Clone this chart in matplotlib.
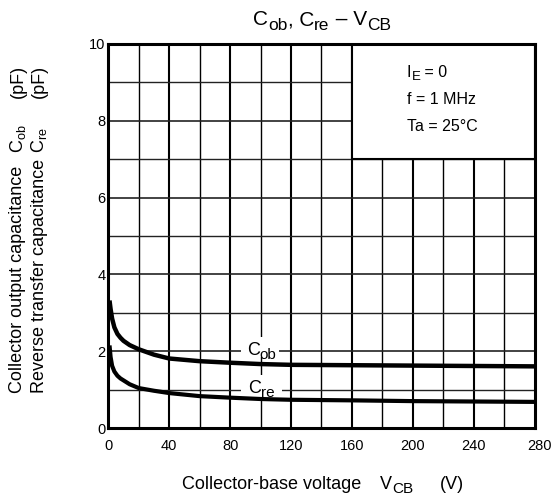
'''
Capacitance vs. collector-base voltage chart (datasheet style).
'''

import matplotlib.pyplot as plt
from matplotlib.patches import Rectangle

plt.rcParams['font.family'] = ['Liberation Sans', 'DejaVu Sans']
plt.rcParams['mathtext.fontset'] = 'custom'
plt.rcParams['mathtext.rm'] = 'Liberation Sans'
plt.rcParams['mathtext.it'] = 'Liberation Sans'

# voltage points in V
V_CB = [0.8, 1.5, 2.5, 4, 6, 8, 10, 14, 20, 30, 40, 60, 80, 100, 120, 160, 200, 240, 280]

# capacitances in pF
C_OB = [3.32, 3.1, 2.85, 2.62, 2.45, 2.35, 2.27, 2.16, 2.05, 1.91, 1.81, 1.74, 1.70,
        1.665, 1.645, 1.635, 1.625, 1.615, 1.605]
C_RE = [2.15, 1.85, 1.62, 1.47, 1.36, 1.29, 1.24, 1.14, 1.04, 0.97, 0.91, 0.83, 0.79,
        0.755, 0.735, 0.72, 0.70, 0.69, 0.68]

X_TICKS = [0, 40, 80, 120, 160, 200, 240, 280]
Y_TICKS = [0, 2, 4, 6, 8, 10]

FIG_W, FIG_H = 551, 501


def px(x, y):
    # pixel position (from top left) to figure fraction
    return x / FIG_W, 1 - y / FIG_H


def draw_runs(fig, x, y, runs, ha='left'):
    # draw text pieces side by side: (text, fontsize, drop in px)
    renderer = fig.canvas.get_renderer()
    texts = []
    widths = []
    for txt, size, dy in runs:
        t = fig.text(0, 0, txt, fontsize=size, ha='left', va='baseline')
        widths.append(t.get_window_extent(renderer).width)
        texts.append((t, dy))
    total = sum(widths)
    cx = x - total / 2 if ha == 'center' else x
    for (t, dy), w in zip(texts, widths):
        t.set_position(px(cx, y + dy))
        cx += w


def draw_grid(ax):
    for x in range(20, 280, 20):
        lw = 1.5 if x % 40 == 0 else 1.0
        ax.axvline(x, color='black', lw=lw, zorder=1)
    for y in range(1, 10):
        lw = 1.2 if y % 2 == 0 else 1.0
        ax.axhline(y, color='#222222', lw=lw, zorder=1)


def plot_chart():
    fig = plt.figure(figsize=(FIG_W / 100, FIG_H / 100), dpi=100)
    ax = fig.add_axes([108.3 / FIG_W, 1 - 428 / FIG_H, 426.2 / FIG_W, 384 / FIG_H])

    ax.set_xlim(0, 280)
    ax.set_ylim(0, 10)
    ax.set_xticks(X_TICKS, labels=[str(v) for v in X_TICKS[:-1]] + [''])
    ax.set_yticks(Y_TICKS)
    ax.tick_params(axis='both', length=0, labelsize=10.5)
    ax.tick_params(axis='x', pad=8)
    ax.tick_params(axis='y', pad=2)
    ax.annotate(str(X_TICKS[-1]), xy=(X_TICKS[-1], 0), xytext=(3.5, -13),
                textcoords='offset points', ha='center', va='center',
                fontsize=10.5, annotation_clip=False)
    for s in ax.spines.values():
        s.set_linewidth(2.2)
        s.set_zorder(5)

    draw_grid(ax)

    # conditions box
    ax.add_patch(Rectangle((160, 7), 120, 3, facecolor='white',
                           edgecolor='black', lw=1.5, zorder=2))

    # white gaps behind the curve labels
    ax.add_patch(Rectangle((87, 1.84), 25, 0.52, facecolor='white',
                           edgecolor='none', zorder=2))
    ax.add_patch(Rectangle((87, 0.82), 27, 0.56, facecolor='white',
                           edgecolor='none', zorder=2))

    ax.plot(V_CB, C_OB, color='black', lw=3.2, zorder=4, solid_capstyle='butt')
    ax.plot(V_CB, C_RE, color='black', lw=3.0, zorder=4, solid_capstyle='butt')

    # conditions text
    draw_runs(fig, 407, 77, [('I', 11.5, 0), ('E', 9.5, 3.5), (' = 0', 11.5, 0)])
    draw_runs(fig, 407, 104, [('f = 1 MHz', 11.5, 0)])
    draw_runs(fig, 407, 131.5, [('Ta = 25°C', 11.5, 0)])

    # curve labels
    draw_runs(fig, 247, 355, [('C', 13, 0), ('ob', 11, 4)])
    draw_runs(fig, 248, 393, [('C', 13, 0), ('re', 11, 4)])

    # title
    draw_runs(fig, 322, 25, [('C', 15, 0), ('ob', 12.5, 4.5), (', C', 15, 0),
                             ('re', 12.5, 4.5), (' – V', 15, 0), ('CB', 12.5, 4.5)],
              ha='center')

    # x label
    draw_runs(fig, 182, 489, [('Collector-base voltage', 13, 0)])
    draw_runs(fig, 380, 489, [('V', 13, 0), ('CB', 11, 4)])
    draw_runs(fig, 440, 489, [('(V)', 13, 0)])

    # y label, two lines
    for x, name, sym in [(18, 'Collector output capacitance', '$\\mathrm{C_{ob}}$'),
                         (39, 'Reverse transfer capacitance', '$\\mathrm{C_{re}}$')]:
        fig.text(*px(x, 393), name, fontsize=13, rotation=90,
                 rotation_mode='anchor', ha='left', va='center')
        fig.text(*px(x, 153), sym, fontsize=13, rotation=90,
                 rotation_mode='anchor', ha='left', va='center')
        fig.text(*px(x, 98), '(pF)', fontsize=13, rotation=90,
                 rotation_mode='anchor', ha='left', va='center')

    plt.savefig('out.png', dpi=100)
    plt.close()


if __name__ == '__main__':
    plot_chart()
